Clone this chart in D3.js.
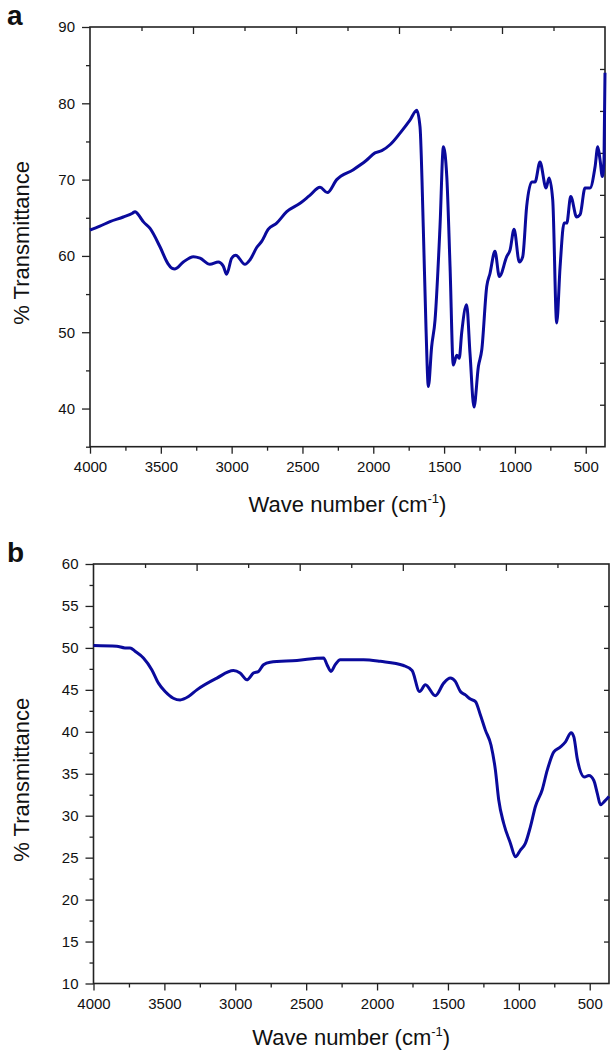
<!DOCTYPE html>
<html>
<head>
<meta charset="utf-8">
<script src="https://cdn.jsdelivr.net/npm/d3@7"></script>
<style>
  body { margin: 0; background: #fff; }
  svg { display: block; font-family: "Liberation Sans", Arial, sans-serif; }
</style>
</head>
<body>
<div id="chart"></div>
<script>
// panel a data (wave number cm-1, % transmittance)
const waveA = [4000, 3930, 3859, 3765, 3700, 3682, 3647, 3624, 3576, 3506, 3450, 3423, 3400, 3341, 3270, 3223, 3153, 3094, 3060,
  3035, 3000, 2971, 2906, 2870, 2823, 2788, 2741, 2682, 2611, 2517, 2450, 2376, 2324, 2258, 2141, 2050, 1988, 1940, 1880,
  1811, 1741, 1693, 1670, 1647, 1628, 1611, 1588, 1564, 1529, 1505, 1481, 1458, 1435, 1411, 1393, 1376, 1341, 1317,
  1289, 1258, 1234, 1199, 1176, 1141, 1110, 1058, 1034, 1006, 969, 945, 917, 881, 858, 823, 780, 759, 733, 705, 681,
  653, 634, 606, 564, 540, 505, 470, 434, 415, 399, 383, 371, 364];
const transA = [63.4, 63.9, 64.5, 65.1, 65.6, 65.8, 65.1, 64.5, 63.6, 61.2, 59.0, 58.4, 58.3, 59.2, 59.9, 59.7, 58.9, 59.2, 58.7,
  57.6, 59.7, 60.1, 58.9, 59.5, 61.1, 61.9, 63.5, 64.3, 65.8, 66.9, 67.9, 69.0, 68.3, 70.0, 71.3, 72.5, 73.5, 73.8, 74.6,
  76.1, 77.8, 79.1, 76.9, 63.8, 50.7, 42.9, 48.1, 51.6, 63.8, 74.3, 70.4, 58.6, 45.7, 47.0, 46.6, 49.9, 53.6, 47.2,
  40.2, 45.5, 47.7, 56.0, 57.7, 60.6, 57.3, 59.9, 60.8, 63.5, 59.2, 59.9, 66.5, 69.7, 69.7, 72.3, 68.9, 70.2, 67.3, 51.2, 58.6,
  64.3, 64.3, 67.8, 65.1, 65.4, 68.9, 68.9, 71.7, 74.3, 72.6, 70.4, 72.6, 84.0];

// panel b data
const waveB = [4000, 3836, 3778, 3742, 3707, 3648, 3589, 3542, 3495, 3437, 3389, 3330, 3271, 3130, 3013, 2966, 2918, 2872,
  2836, 2801, 2754, 2565, 2377, 2353, 2325, 2295, 2260, 2095, 1977, 1813, 1753, 1700, 1659, 1589, 1530, 1483, 1448,
  1412, 1377, 1342, 1306, 1271, 1236, 1196, 1165, 1142, 1107, 1059, 1024, 989, 954, 918, 883, 835, 800, 753, 706,
  671, 631, 612, 588, 537, 506, 471, 447, 424, 396, 364];
const transB = [50.3, 50.2, 50.0, 50.0, 49.6, 48.8, 47.4, 45.8, 44.8, 44.0, 43.8, 44.2, 45.0, 46.4, 47.3, 47.0, 46.2, 47.0,
  47.2, 48.0, 48.3, 48.5, 48.8, 48.0, 47.2, 48.0, 48.6, 48.6, 48.4, 47.9, 47.3, 44.8, 45.6, 44.3, 45.8, 46.4, 46.0,
  44.8, 44.4, 43.9, 43.6, 42.0, 40.2, 38.4, 35.4, 31.9, 29.1, 26.7, 25.1, 25.9, 26.7, 28.7, 31.1, 33.1, 35.4, 37.6, 38.2,
  38.8, 39.9, 39.4, 36.8, 34.6, 34.8, 34.2, 32.7, 31.3, 31.7, 32.3];

const xTicks = [4000, 3500, 3000, 2500, 2000, 1500, 1000, 500];
const yTicksA = [40, 50, 60, 70, 80, 90];
const yTicksB = [10, 15, 20, 25, 30, 35, 40, 45, 50, 55, 60];

const W = 610, H = 1053;
const svg = d3.select("#chart").append("svg").attr("width", W).attr("height", H);

function panel(opt) {
  const x = d3.scaleLinear().domain([4000, 364]).range([opt.left, opt.right]);
  const y = d3.scaleLinear().domain(opt.yDomain).range([opt.bottom, opt.top]);
  const g = svg.append("g");

  // bottom axis: major + minor
  const minorX = d3.range(3750, 364, -500);
  g.append("g").attr("transform", `translate(0,${opt.bottom})`)
    .call(d3.axisBottom(x).tickValues(xTicks).tickSize(7).tickPadding(8).tickFormat(d3.format("d")));
  g.append("g").attr("transform", `translate(0,${opt.bottom})`)
    .call(d3.axisBottom(x).tickValues(minorX).tickSize(4).tickFormat(""));

  // left axis
  g.append("g").attr("transform", `translate(${opt.left},0)`)
    .call(d3.axisLeft(y).tickValues(opt.yTicks).tickSize(8).tickPadding(7).tickFormat(d3.format("d")));
  g.append("g").attr("transform", `translate(${opt.left},0)`)
    .call(d3.axisLeft(y).tickValues(opt.yMinor).tickSize(4).tickFormat(""));

  // top and right axes carry their own evenly spaced ticks, pointing inward
  const t = d3.scaleLinear().domain([0, 10]).range([opt.left, opt.right]);
  const r = d3.scaleLinear().domain([0, 10]).range([opt.bottom, opt.top]);
  g.append("g").attr("transform", `translate(0,${opt.top})`)
    .call(d3.axisBottom(t).tickValues([2, 4, 6, 8]).tickSize(7).tickFormat(""));
  g.append("g").attr("transform", `translate(0,${opt.top})`)
    .call(d3.axisBottom(t).tickValues([1, 3, 5, 7, 9]).tickSize(4).tickFormat(""));
  g.append("g").attr("transform", `translate(${opt.right},0)`)
    .call(d3.axisLeft(r).tickValues(d3.range(1, 10)).tickSize(5).tickFormat(""));

  g.selectAll(".domain").remove();
  g.selectAll(".tick line").attr("stroke", "#222").attr("stroke-width", 1.3);
  g.selectAll(".tick text").attr("font-size", 15).attr("fill", "#111")
    .attr("font-family", "Liberation Sans, Arial, sans-serif");

  g.append("rect")
    .attr("x", opt.left).attr("y", opt.top)
    .attr("width", opt.right - opt.left).attr("height", opt.bottom - opt.top)
    .attr("fill", "none").attr("stroke", "#222").attr("stroke-width", 1.6);

  const line = d3.line()
    .x(d => x(d[0])).y(d => y(d[1]))
    .curve(d3.curveMonotoneX);
  g.append("path")
    .datum(d3.zip(opt.wave, opt.trans))
    .attr("d", line)
    .attr("fill", "none")
    .attr("stroke", "#0a0a9c")
    .attr("stroke-width", 3)
    .attr("stroke-linejoin", "round");

  // titles
  const xt = g.append("text")
    .attr("x", (opt.left + opt.right) / 2).attr("y", opt.xTitleY)
    .attr("text-anchor", "middle").attr("font-size", 22).attr("fill", "#111")
    .text("Wave number (cm");
  xt.append("tspan").attr("font-size", 13).attr("dy", -9).text("-1");
  xt.append("tspan").attr("dy", 9).text(")");

  g.append("text")
    .attr("transform", `translate(29,${(opt.top + opt.bottom) / 2 + 6}) rotate(-90)`)
    .attr("text-anchor", "middle").attr("font-size", 22).attr("fill", "#111")
    .text("% Transmittance");

  g.append("text")
    .attr("x", 7).attr("y", opt.letterY)
    .attr("font-size", 28).attr("font-weight", "bold").attr("fill", "#111")
    .text(opt.letter);
}

panel({
  left: 90, right: 605, top: 27, bottom: 446.7,
  yDomain: [35, 90], yTicks: yTicksA, yMinor: d3.range(35, 90, 10),
  wave: waveA, trans: transA, xTitleY: 512, letter: "a", letterY: 25
});

panel({
  left: 93.5, right: 609, top: 564, bottom: 983.5,
  yDomain: [10, 60], yTicks: yTicksB, yMinor: d3.range(12.5, 60, 5),
  wave: waveB, trans: transB, xTitleY: 1045, letter: "b", letterY: 562
});
</script>
</body>
</html>
